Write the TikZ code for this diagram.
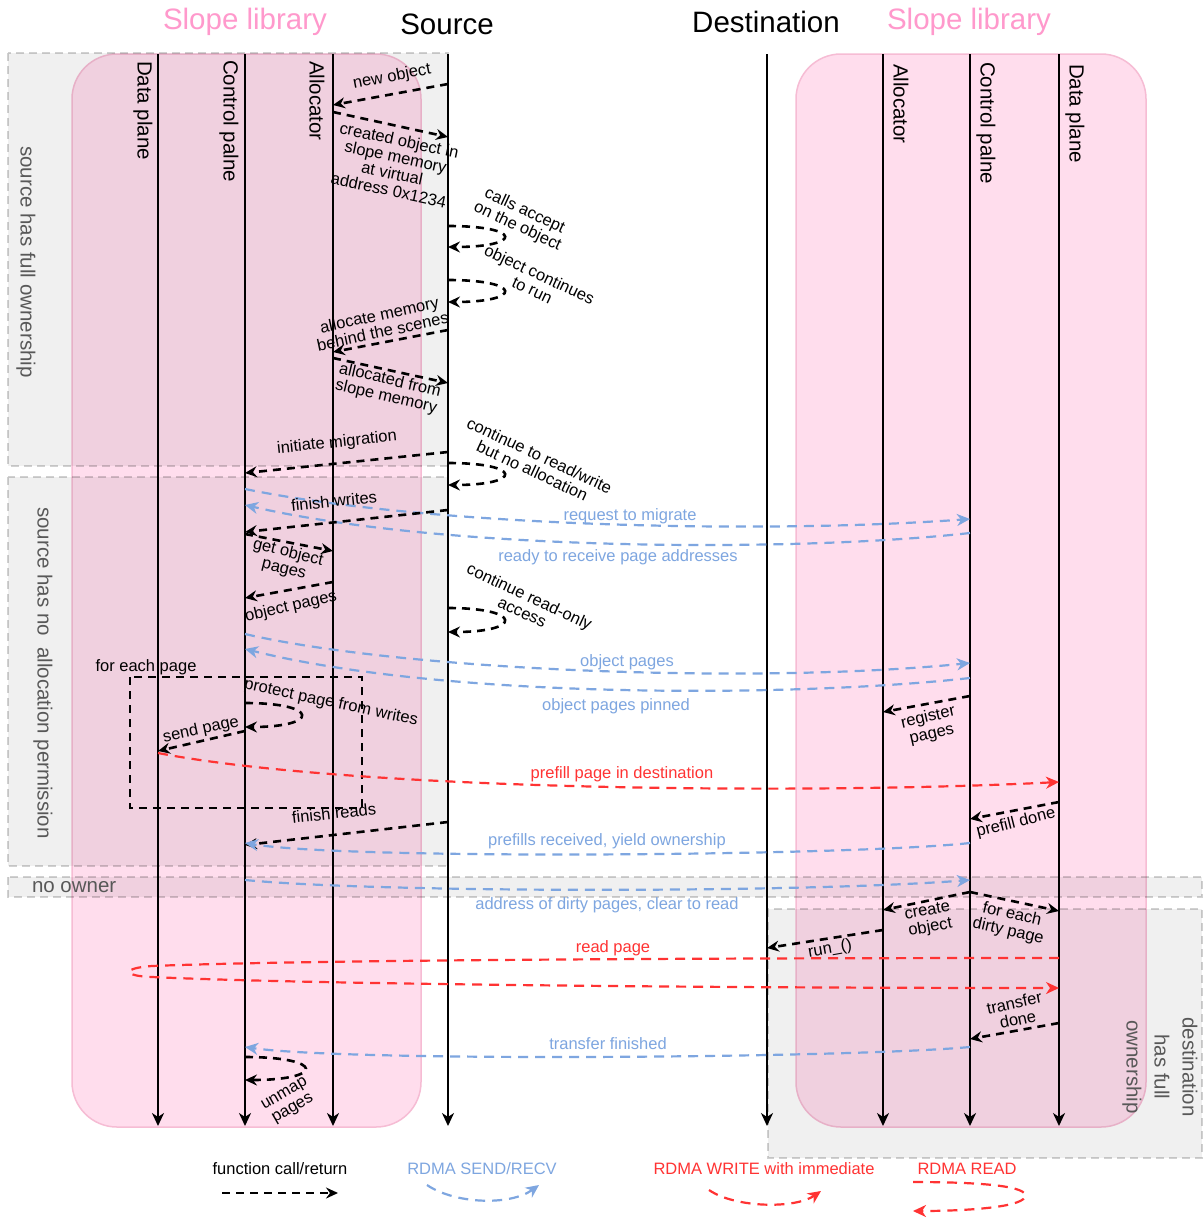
\documentclass[tikz,border=0pt]{standalone}
\usepackage{fontspec}
\setmainfont{Liberation Sans}
\usetikzlibrary{arrows.meta}

\definecolor{slopepink}{RGB}{255,153,204}
\definecolor{boxpink}{RGB}{255,221,237}
\definecolor{boxpinkedge}{RGB}{246,188,212}
\definecolor{rdmablue}{RGB}{126,166,224}
\definecolor{rdmared}{RGB}{255,51,51}
\definecolor{zonetext}{RGB}{88,88,88}

\tikzset{
  every node/.style={inner sep=0pt, outer sep=0pt},
  hdr/.style={font=\fontsize{29.5}{33}\selectfont},
  lane/.style={font=\fontsize{20.5}{24}\selectfont, rotate=-90, anchor=west},
  zonelbl/.style={font=\fontsize{20.5}{28}\selectfont, text=zonetext, align=center},
  msg/.style={font=\fontsize{16.5}{17}\selectfont, align=center},
  bluelbl/.style={msg, text=rdmablue},
  redlbl/.style={msg, text=rdmared},
  lifeline/.style={line width=2.2pt, -{Stealth[length=13pt,width=12pt,inset=4pt]}},
  fcall/.style={line width=2.6pt, dash pattern=on 8pt off 6pt,
    -{Stealth[length=12pt,width=11pt,inset=4pt]}},
  rdmasend/.style={rdmablue, line width=2.2pt, dash pattern=on 10pt off 7pt,
    -{Stealth[length=13pt,width=12pt,inset=4pt]}},
  rdmawrite/.style={rdmasend, rdmared},
  rdmaread/.style={rdmasend, rdmared},
  zone/.style={fill=black, fill opacity=0.06, draw=black, draw opacity=0.18,
    line width=1.6pt, dash pattern=on 8pt off 5pt},
  lib/.style={fill=boxpink, draw=boxpinkedge, line width=1.5pt, rounded corners=45pt},
  loopbox/.style={line width=2pt, dash pattern=on 8pt off 6pt},
}

\begin{document}
\begin{tikzpicture}[x=1pt, y=-1pt]
\useasboundingbox (0,0) rectangle (1204,1218);
\fill[white] (0,0) rectangle (1204,1218);

% library frames
\draw[lib] (72,54) rectangle (421,1127);
\draw[lib] (796,54) rectangle (1146,1127);

% ownership zones
\path[zone] (8,53) rectangle (448,466);
\path[zone] (8,477) rectangle (448,866);
\path[zone] (8,877) rectangle (1202,897);
\path[zone] (768,909) rectangle (1202,1158);

% headers
\node[hdr, text=slopepink] (hLibS) at (245,22) {Slope library};
\node[hdr] (hSrc) at (447,24) {Source};
\node[hdr] (hDst) at (766,22) {Destination};
\node[hdr, text=slopepink] (hLibD) at (969,22) {Slope library};

% zone labels
\node[zonelbl, rotate=-90] (zFull) at (26,262) {source has full ownership};
\node[zonelbl, rotate=-90] (zNo) at (43,673) {source has no\ \ allocation permission};
\node[zonelbl, anchor=west] (zNone) at (32,887) {no owner};
\node[zonelbl, rotate=-90] (zDst) at (1160,1067) {destination\\has full\\ownership};

% lifelines
\coordinate (sdp) at (158,54);  \coordinate (sdpE) at (158,1126);
\coordinate (scp) at (245,54);  \coordinate (scpE) at (245,1126);
\coordinate (sal) at (333,54);  \coordinate (salE) at (333,1126);
\coordinate (src) at (448,54);  \coordinate (srcE) at (448,1126);
\coordinate (dst) at (767,54);  \coordinate (dstE) at (767,1126);
\coordinate (dal) at (883,54);  \coordinate (dalE) at (883,1126);
\coordinate (dcp) at (970,54);  \coordinate (dcpE) at (970,1126);
\coordinate (ddp) at (1059,54); \coordinate (ddpE) at (1059,1126);
\foreach \l in {sdp,scp,sal,src,dst,dal,dcp,ddp}
  \draw[lifeline] (\l) -- (\l E);

\node[lane] (lSdp) at (143,61) {Data plane};
\node[lane] (lScp) at (229,60) {Control palne};
\node[lane] (lSal) at (317,61) {Allocator};
\node[lane] (lDal) at (901,64) {Allocator};
\node[lane] (lDcp) at (986,62) {Control palne};
\node[lane] (lDdp) at (1075,64) {Data plane};

% object creation on the source
\draw[fcall] (src |- 0,84) -- (sal |- 0,105);
\node[msg, rotate=11] (tNew) at (392,77) {new object};
\draw[fcall] (sal |- 0,112) -- (src |- 0,137);
\node[msg, rotate=-12] (tCreated) at (394,165) {created object in\\slope memory\\at virtual\\address 0x1234};
\draw[fcall] (src |- 0,226) .. controls +(75,0) and +(75,0) .. (src |- 0,247);
\node[msg, rotate=-25] (tAccept) at (521,219) {calls accept\\on the object};
\draw[fcall] (src |- 0,280) .. controls +(75,0) and +(75,0) .. (src |- 0,302);
\node[msg, rotate=-25] (tCont) at (536,282) {object continues\\to run};
\draw[fcall] (src |- 0,330) -- (sal |- 0,352);
\node[msg, rotate=12] (tAlloc) at (381,323) {allocate memory\\behind the scenes};
\draw[fcall] (sal |- 0,358) -- (src |- 0,383);
\node[msg, rotate=-13] (tFrom) at (388,389) {allocated from\\slope memory};

% migration start
\draw[fcall] (src |- 0,452) -- (scp |- 0,473);
\node[msg, rotate=6] (tInit) at (337,443) {initiate migration};
\draw[fcall] (src |- 0,463) .. controls +(75,0) and +(75,0) .. (src |- 0,485);
\node[msg, rotate=-25] (tRW) at (536,463) {continue to read/write\\but no allocation};

\draw[rdmasend] (scp |- 0,489) .. controls (420,525) and (750,535) .. (dcp |- 0,519);
\node[bluelbl] (tReq) at (630,516) {request to migrate};
\draw[rdmasend] (dcp |- 0,533) .. controls (800,552) and (450,552) .. (scp |- 0,505);
\node[bluelbl] (tReady) at (618,557) {ready to receive page addresses};

\draw[fcall] (src |- 0,510) -- (scp |- 0,532);
\node[msg, rotate=6] (tFinW) at (334,501) {finish writes};
\draw[fcall] (scp |- 0,534) -- (sal |- 0,551);
\node[msg, rotate=-14] (tGet) at (286,561) {get object\\pages};
\draw[fcall] (sal |- 0,582) -- (scp |- 0,598);
\node[msg, rotate=13] (tObjP) at (291,607) {object pages};
\draw[fcall] (src |- 0,608) .. controls +(75,0) and +(75,0) .. (src |- 0,632);
\node[msg, rotate=-25] (tRO) at (526,604) {continue read-only\\access};

\draw[rdmasend] (scp |- 0,634) .. controls (400,670) and (750,685) .. (dcp |- 0,663);
\node[bluelbl] (tObjPB) at (627,662) {object pages};
\draw[rdmasend] (dcp |- 0,678) .. controls (800,697) and (450,700) .. (scp |- 0,649);
\node[bluelbl] (tPinned) at (616,706) {object pages pinned};
\draw[fcall] (dcp |- 0,696) -- (dal |- 0,712);
\node[msg, rotate=13] (tReg) at (930,726) {register\\pages};

% per page prefill loop
\draw[loopbox] (130,677) rectangle (362,808);
\node[msg] (tEach) at (146,667) {for each page};
\draw[fcall] (scp |- 0,703) .. controls +(75,0) and +(75,0) .. (scp |- 0,727);
\node[msg, rotate=-12] (tProt) at (331,703) {protect page from writes};
\draw[fcall] (scp |- 0,731) -- (sdp |- 0,751);
\node[msg, rotate=12] (tSend) at (201,730) {send page};
\draw[rdmawrite] (sdp |- 0,753) .. controls (350,790) and (800,795) .. (ddp |- 0,782);
\node[redlbl] (tPrefill) at (622,774) {prefill page in destination};

\draw[fcall] (src |- 0,822) -- (scp |- 0,845);
\node[msg, rotate=6] (tFinR) at (334,813) {finish reads};
\draw[fcall] (ddp |- 0,802) -- (dcp |- 0,819);
\node[msg, rotate=14] (tDone) at (1016,823) {prefill done};
\draw[rdmasend] (dcp |- 0,843) .. controls (850,856) and (350,860) .. (scp |- 0,843);
\node[bluelbl] (tYield) at (607,841) {prefills received, yield ownership};

% ownership handed over
\draw[rdmasend] (scp |- 0,880) .. controls (380,893) and (800,893) .. (dcp |- 0,880);
\node[bluelbl] (tAddr) at (607,905) {address of dirty pages, clear to read};
\draw[fcall] (dcp |- 0,892) -- (dal |- 0,910);
\node[msg, rotate=10] (tCreate) at (929,920) {create\\object};
\draw[fcall] (dcp |- 0,892) -- (ddp |- 0,911);
\node[msg, rotate=-13] (tDirty) at (1010,923) {for each\\dirty page};
\draw[fcall] (dal |- 0,930) -- (dst |- 0,948);
\node[msg, rotate=10] (tRun) at (830,949) {run\_()};

\draw[rdmaread] (ddp |- 0,958) .. controls (700,958) and (300,960) .. (152,966)
  .. controls (122,968) and (122,976) .. (152,977)
  .. controls (300,984) and (700,988) .. (ddp |- 0,988);
\node[redlbl] (tRead) at (613,948) {read page};

\draw[fcall] (ddp |- 0,1023) -- (dcp |- 0,1039);
\node[msg, rotate=12] (tTDone) at (1016,1011) {transfer\\done};
\draw[rdmasend] (dcp |- 0,1047) .. controls (850,1058) and (350,1062) .. (scp |- 0,1047);
\node[bluelbl] (tTFin) at (608,1044) {transfer finished};
\draw[fcall] (scp |- 0,1057) .. controls +(80,0) and +(80,0) .. (scp |- 0,1080);
\node[msg, rotate=30] (tUnmap) at (289,1102) {unmap\\pages};

% legend
\node[msg] (lgCall) at (280,1169) {function call/return};
\coordinate (lgCallA) at (222,1193); \coordinate (lgCallB) at (338,1193);
\draw[fcall] (lgCallA) -- (lgCallB);
\node[bluelbl] (lgSend) at (482,1169) {RDMA SEND/RECV};
\coordinate (lgSendA) at (427,1185); \coordinate (lgSendB) at (539,1185);
\draw[rdmasend] (lgSendA) .. controls (455,1204) and (510,1206) .. (lgSendB);
\node[redlbl] (lgWrite) at (764,1169) {RDMA WRITE with immediate};
\coordinate (lgWriteA) at (709,1190); \coordinate (lgWriteB) at (821,1191);
\draw[rdmawrite] (lgWriteA) .. controls (735,1208) and (795,1209) .. (lgWriteB);
\node[redlbl] (lgRead) at (967,1169) {RDMA READ};
\coordinate (lgReadA) at (913,1182); \coordinate (lgReadB) at (913,1211);
\draw[rdmaread] (lgReadA) .. controls (980,1182) and (1030,1186) .. (1025,1197)
  .. controls (1020,1208) and (960,1211) .. (lgReadB);
\end{tikzpicture}
\end{document}
